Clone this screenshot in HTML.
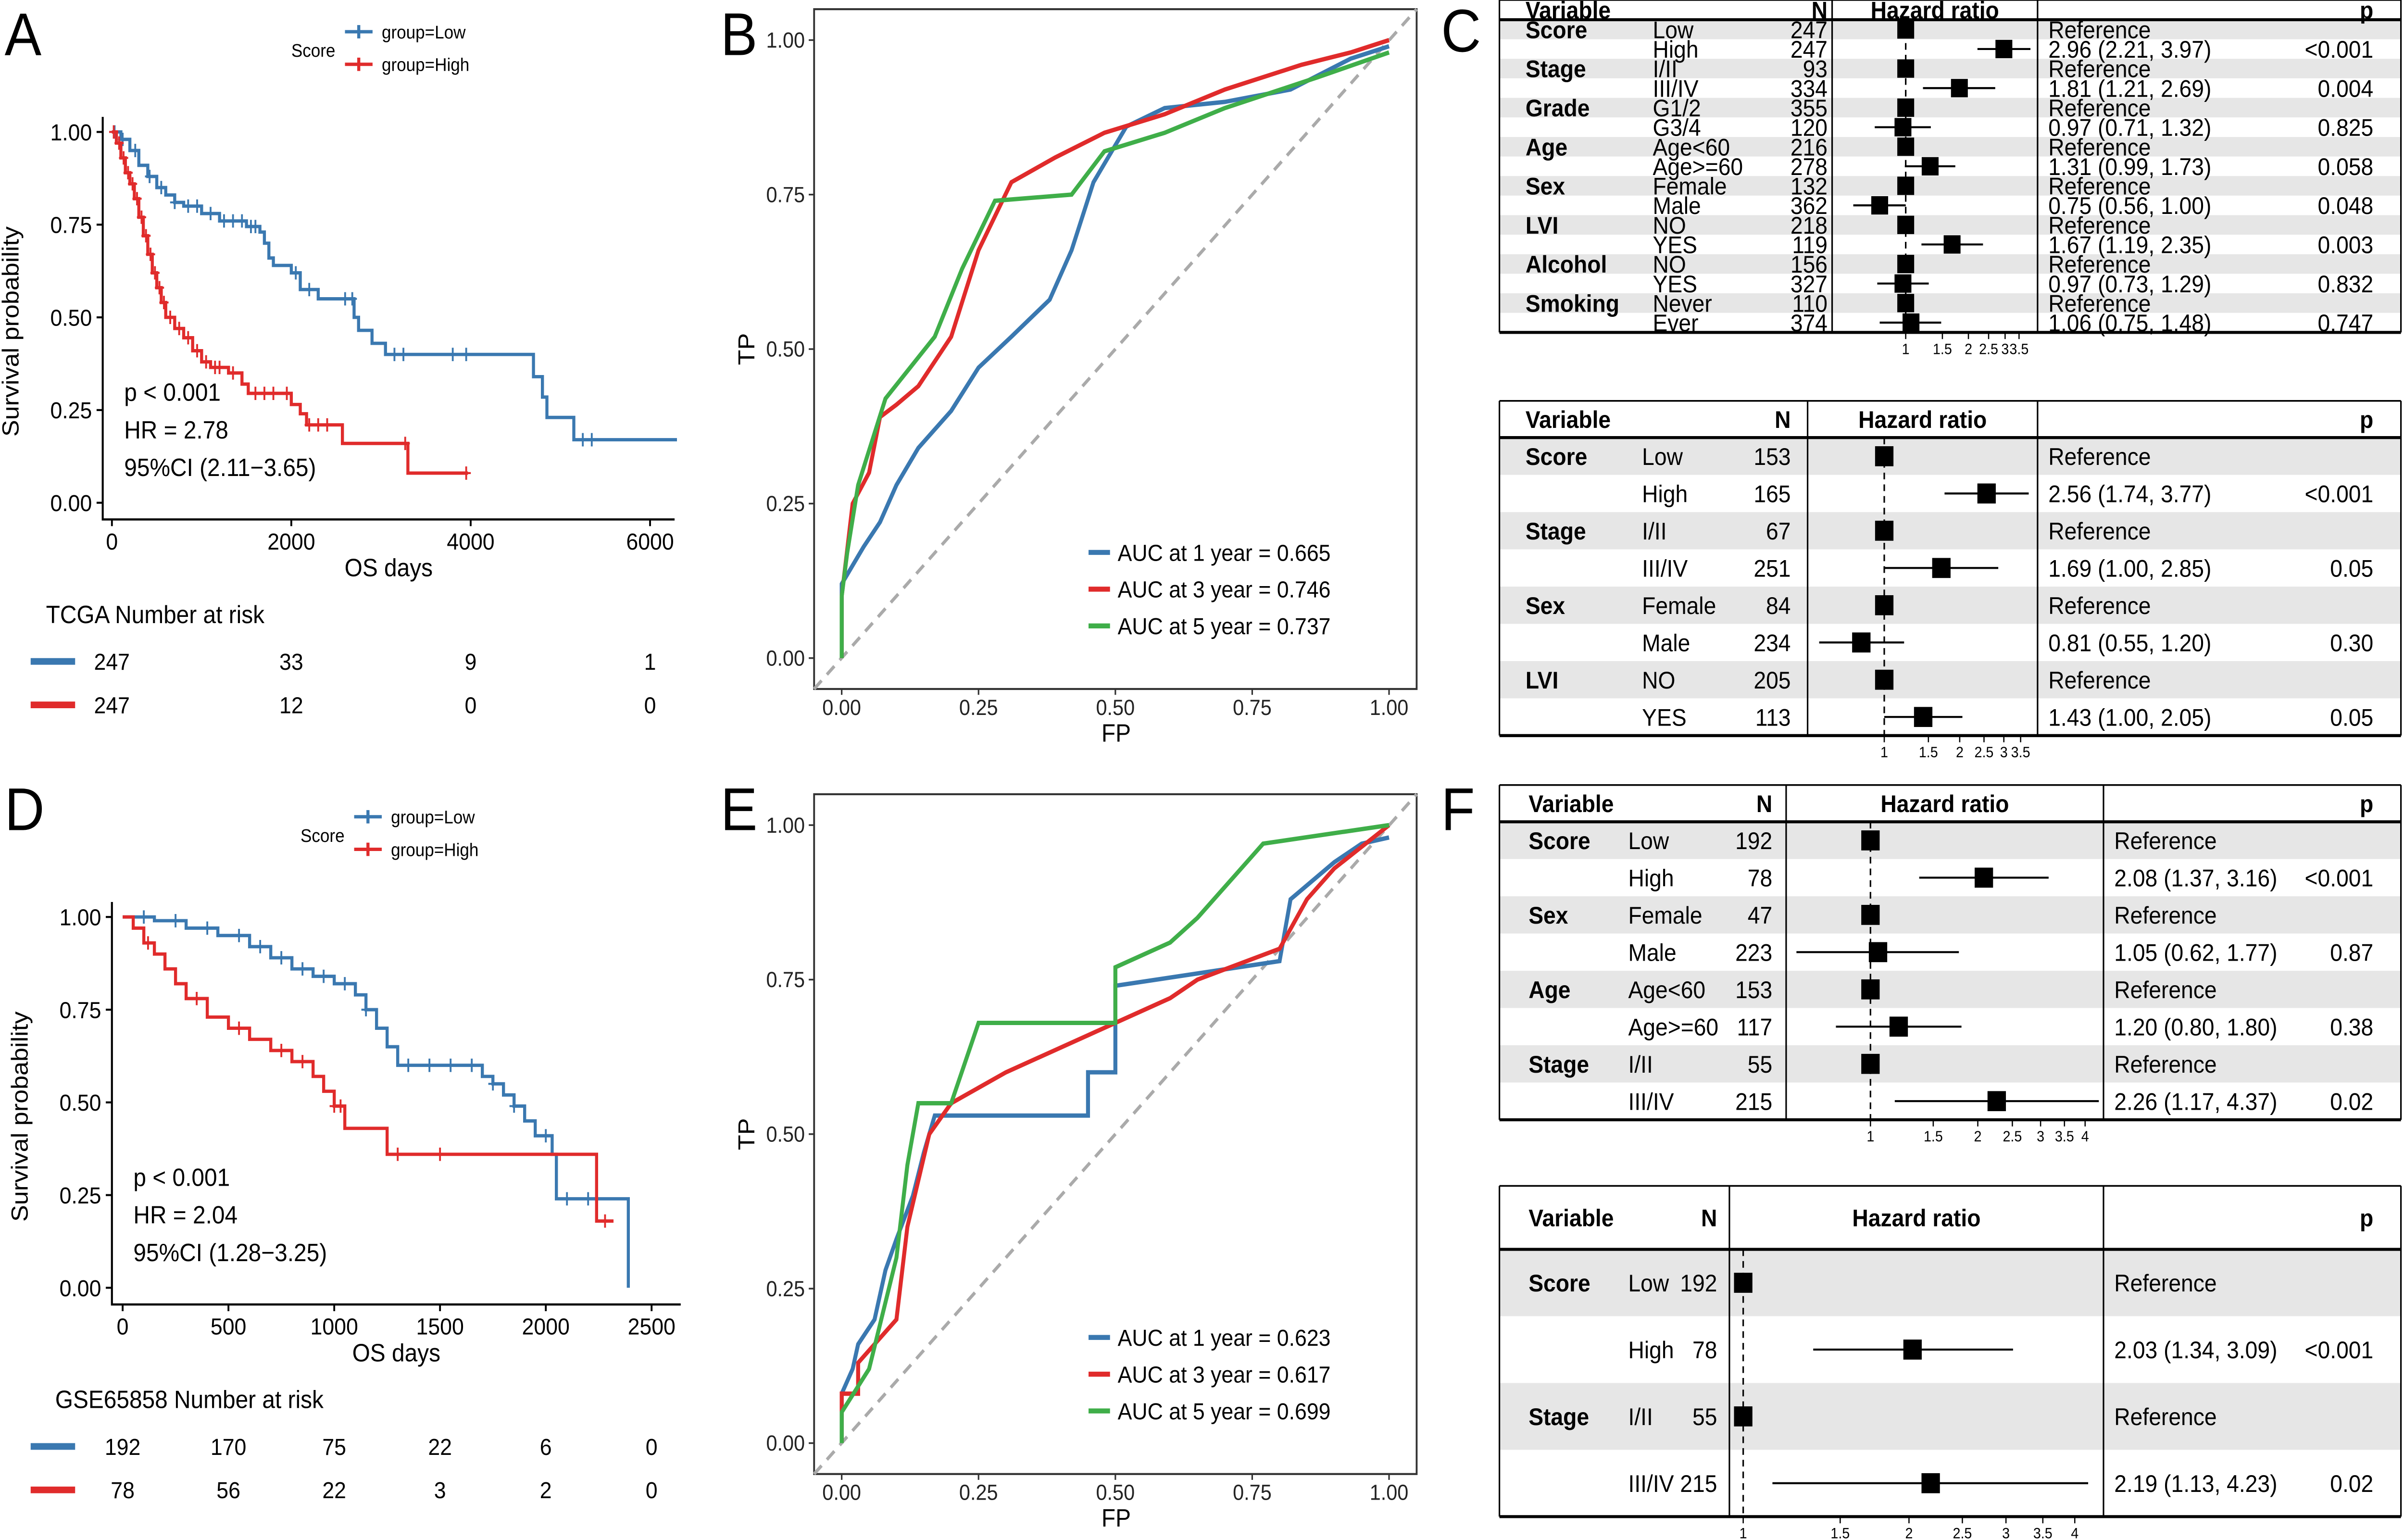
<!DOCTYPE html>
<html><head><meta charset="utf-8"><style>
html,body{margin:0;padding:0;background:#fff;overflow:hidden;width:100vw;height:100vh;}
svg{display:block;width:100vw;height:100vh;}
.n{font-family:"Liberation Sans Narrow","Liberation Sans",sans-serif;}
.s{font-family:"Liberation Sans",sans-serif;}
</style></head><body>
<svg id="fig" xmlns="http://www.w3.org/2000/svg" viewBox="0 0 1568 922" preserveAspectRatio="none">
<rect x="0" y="0" width="1568" height="922" fill="#fff"/>
<g class="s" font-size="36" fill="#000">
<text x="3" y="33">A</text>
<text x="470" y="33">B</text>
<text x="940" y="31">C</text>
<text x="3" y="497">D</text>
<text x="470" y="497">E</text>
<text x="940" y="497">F</text>
</g>
</svg>
<script>
// ---------- DATA ----------
const kmA_low_t=[0,100,200,300,400,500,600,700,800,1000,1200,1500,1650,1700,1750,1800,2000,2100,2300,2700,2750,2900,3050,4700,4800,4850,5150];
const kmA_low_s=[1,0.98,0.95,0.91,0.88,0.85,0.83,0.81,0.80,0.78,0.76,0.745,0.73,0.70,0.66,0.64,0.62,0.575,0.55,0.50,0.465,0.43,0.40,0.34,0.285,0.23,0.17];
const kmA_low_end=6300;
const kmA_low_cens=[30,120,260,420,550,700,850,950,1100,1250,1350,1450,1550,1600,2050,2200,2600,2680,3150,3250,3800,3950,5250,5350];
const kmA_high_t=[0,50,100,150,200,250,300,350,400,450,500,550,600,700,800,900,1000,1100,1300,1450,1520,2000,2100,2170,2570,3300];
const kmA_high_s=[1,0.97,0.93,0.89,0.86,0.82,0.77,0.72,0.67,0.62,0.58,0.54,0.50,0.47,0.445,0.41,0.38,0.365,0.35,0.32,0.295,0.265,0.24,0.21,0.16,0.08];
const kmA_high_end=3970;
const kmA_high_cens=[20,80,130,180,230,280,330,380,430,480,530,580,650,750,850,950,1050,1150,1200,1350,1600,1700,1800,1950,2200,2300,2400,3270,3950];
const kmA_xticks=[0,2000,4000,6000];
const kmA_risk_low=[247,33,9,1];
const kmA_risk_high=[247,12,0,0];

const kmD_low_t=[0,150,300,450,600,700,800,900,1000,1100,1150,1200,1250,1300,1700,1750,1800,1850,1900,1950,2030,2050,2390];
const kmD_low_s=[1,0.99,0.97,0.95,0.92,0.89,0.86,0.84,0.82,0.79,0.75,0.70,0.65,0.60,0.57,0.55,0.52,0.49,0.45,0.41,0.36,0.24,0];
const kmD_low_end=2390;
const kmD_low_cens=[100,250,400,550,650,750,850,950,1050,1150,1350,1450,1550,1650,1750,1850,2000,2100,2200];
const kmD_high_t=[0,50,100,150,200,250,300,400,500,600,700,800,900,950,1000,1050,1250,2240];
const kmD_high_s=[1,0.97,0.93,0.9,0.86,0.82,0.78,0.73,0.70,0.67,0.64,0.61,0.57,0.53,0.49,0.43,0.36,0.18];
const kmD_high_end=2320;
const kmD_high_cens=[120,350,550,750,850,1000,1030,1300,1500,2280];
const kmD_xticks=[0,500,1000,1500,2000,2500];
const kmD_risk_low=[192,170,75,22,6,0];
const kmD_risk_high=[78,56,22,3,2,0];

const rocB_1_fp=[0,0,0.02,0.04,0.07,0.10,0.14,0.17,0.20,0.25,0.31,0.38,0.42,0.46,0.52,0.59,0.70,0.82,0.93,1];
const rocB_1_tp=[0,0.12,0.15,0.18,0.22,0.28,0.34,0.37,0.40,0.47,0.52,0.58,0.66,0.77,0.86,0.89,0.90,0.92,0.97,0.99];
const rocB_3_fp=[0,0,0.02,0.05,0.07,0.10,0.14,0.20,0.25,0.31,0.39,0.48,0.59,0.70,0.84,0.93,1];
const rocB_3_tp=[0,0.10,0.25,0.30,0.39,0.41,0.44,0.52,0.66,0.77,0.81,0.85,0.88,0.92,0.96,0.98,1];
const rocB_5_fp=[0,0,0.01,0.03,0.08,0.17,0.22,0.28,0.42,0.48,0.59,0.70,0.87,1];
const rocB_5_tp=[0,0.10,0.17,0.28,0.42,0.52,0.63,0.74,0.75,0.82,0.85,0.89,0.94,0.98];
const aucB=["0.665","0.746","0.737"];

const rocE_1_fp=[0,0,0.02,0.03,0.06,0.08,0.10,0.13,0.15,0.17,0.45,0.45,0.50,0.50,0.80,0.82,0.90,0.95,1];
const rocE_1_tp=[0,0.08,0.12,0.16,0.20,0.28,0.33,0.40,0.47,0.53,0.53,0.60,0.60,0.74,0.78,0.88,0.94,0.97,0.98];
const rocE_3_fp=[0,0,0.03,0.03,0.10,0.12,0.16,0.20,0.30,0.45,0.50,0.60,0.65,0.80,0.85,0.90,1];
const rocE_3_tp=[0,0.08,0.08,0.13,0.20,0.35,0.50,0.55,0.60,0.66,0.68,0.72,0.75,0.80,0.88,0.93,1];
const rocE_5_fp=[0,0,0.05,0.10,0.12,0.14,0.20,0.25,0.50,0.50,0.60,0.65,0.72,0.77,1];
const rocE_5_tp=[0,0.05,0.12,0.30,0.45,0.55,0.55,0.68,0.68,0.77,0.81,0.85,0.92,0.97,1];
const aucE=["0.623","0.617","0.699"];
const rocTicks=[0,0.25,0.5,0.75,1];
const rocTickLabels=["0.00","0.25","0.50","0.75","1.00"];

const fC1_var=["Score","","Stage","","Grade","","Age","","Sex","","LVI","","Alcohol","","Smoking",""];
const fC1_lvl=["Low","High","I/II","III/IV","G1/2","G3/4","Age<60","Age>=60","Female","Male","NO","YES","NO","YES","Never","Ever"];
const fC1_n=[247,247,93,334,355,120,216,278,132,362,218,119,156,327,110,374];
const fC1_hr=[1,2.96,1,1.81,1,0.97,1,1.31,1,0.75,1,1.67,1,0.97,1,1.06];
const fC1_lo=[1,2.21,1,1.21,1,0.71,1,0.99,1,0.56,1,1.19,1,0.73,1,0.75];
const fC1_hi=[1,3.97,1,2.69,1,1.32,1,1.73,1,1.00,1,2.35,1,1.29,1,1.48];
const fC1_p=["","<0.001","","0.004","","0.825","","0.058","","0.048","","0.003","","0.832","","0.747"];

const fC2_var=["Score","","Stage","","Sex","","LVI",""];
const fC2_lvl=["Low","High","I/II","III/IV","Female","Male","NO","YES"];
const fC2_n=[153,165,67,251,84,234,205,113];
const fC2_hr=[1,2.56,1,1.69,1,0.81,1,1.43];
const fC2_lo=[1,1.74,1,1.00,1,0.55,1,1.00];
const fC2_hi=[1,3.77,1,2.85,1,1.20,1,2.05];
const fC2_p=["","<0.001","","0.05","","0.30","","0.05"];

const fF1_var=["Score","","Sex","","Age","","Stage",""];
const fF1_lvl=["Low","High","Female","Male","Age<60","Age>=60","I/II","III/IV"];
const fF1_n=[192,78,47,223,153,117,55,215];
const fF1_hr=[1,2.08,1,1.05,1,1.20,1,2.26];
const fF1_lo=[1,1.37,1,0.62,1,0.80,1,1.17];
const fF1_hi=[1,3.16,1,1.77,1,1.80,1,4.37];
const fF1_p=["","<0.001","","0.87","","0.38","","0.02"];

const fF2_var=["Score","","Stage",""];
const fF2_lvl=["Low","High","I/II","III/IV"];
const fF2_n=[192,78,55,215];
const fF2_hr=[1,2.03,1,2.19];
const fF2_lo=[1,1.34,1,1.13];
const fF2_hi=[1,3.09,1,4.23];
const fF2_p=["","<0.001","","0.02"];

const forestTicks=[1,1.5,2,2.5,3,3.5];
const forestTicksF=[1,1.5,2,2.5,3,3.5,4];

// ---------- HELPERS ----------
const NS="http://www.w3.org/2000/svg";
const svg=document.getElementById('fig');
function mk(tag,attrs,parent,txt){const e=document.createElementNS(NS,tag);for(const k in attrs)e.setAttribute(k,attrs[k]);if(txt!==undefined)e.textContent=txt;(parent||svg).appendChild(e);return e;}
const BLUE="#3a78b0",RED="#e02b2b",GREEN="#3fae49";

// ---------- KM ----------
function km(cfg){
  const g=mk('g',{},svg);
  
  
  const X=t=>cfg.x0+t*cfg.kx, Y=s=>cfg.y0-s*cfg.ky;
  const ax=mk('path',{d:`M${cfg.axL} ${cfg.axT} V${cfg.axB} H${cfg.axR}`,stroke:'#000','stroke-width':1.3,fill:'none'},g);
  
  
  [0,0.25,0.5,0.75,1].forEach((v,i)=>{
    mk('line',{x1:cfg.axL-4,x2:cfg.axL,y1:Y(v),y2:Y(v),stroke:'#000','stroke-width':1.2},g);
    const t=mk('text',{x:cfg.axL-7,y:Y(v)+5,'text-anchor':'end','font-size':14,class:'n'},g,v.toFixed(2));
    
    
  });
  cfg.xticks.forEach(v=>{
    mk('line',{x1:X(v),x2:X(v),y1:cfg.axB,y2:cfg.axB+4,stroke:'#000','stroke-width':1.2},g);
    const t=mk('text',{x:X(v),y:cfg.axB+18,'text-anchor':'middle','font-size':14,class:'n'},g,String(v));
    
    
  });
  const xt=mk('text',{x:(cfg.axL+cfg.axR)/2,y:cfg.axB+34,'text-anchor':'middle','font-size':15,class:'s'},g,'OS days');
  
  
  const yt=mk('text',{transform:`translate(${cfg.axL-55},${(cfg.axT+cfg.axB)/2+8}) rotate(-90)`,'text-anchor':'middle','font-size':15,class:'s'},g,'Survival probability');
  
  
  cfg.series.forEach(sr=>{
    let d=`M${X(sr.t[0])} ${Y(sr.s[0])}`;
    for(let i=1;i<sr.t.length;i++)d+=` H${X(sr.t[i])} V${Y(sr.s[i])}`;
    d+=` H${X(sr.end)}`;
    const p=mk('path',{d,stroke:sr.col,'stroke-width':2,fill:'none'},g);
    
    
    sr.c.forEach(ct=>{
      let s=sr.s[0];for(let i=0;i<sr.t.length;i++)if(sr.t[i]<=ct)s=sr.s[i];
      const m=mk('path',{d:`M${X(ct)-3} ${Y(s)} H${X(ct)+3} M${X(ct)} ${Y(s)-4} V${Y(s)+4}`,stroke:sr.col,'stroke-width':1.2},g);
      
      
    });
  });
  cfg.stats.forEach((s,i)=>{
    const t=mk('text',{x:cfg.axL+14,y:cfg.statY+i*22.5,'font-size':15,class:'n'},g,s);
    
    
  });
  const lg=mk('g',{},g);
  
  
  mk('text',{x:cfg.legX-35,y:cfg.legY+15,'font-size':11,class:'n'},lg,'Score');
  [['group=Low',BLUE],['group=High',RED]].forEach((l,i)=>{
    const y=cfg.legY+i*19.5;
    mk('path',{d:`M${cfg.legX} ${y} H${cfg.legX+18} M${cfg.legX+9} ${y-4} V${y+4}`,stroke:l[1],'stroke-width':2},lg);
    const t=mk('text',{x:cfg.legX+24,y:y+4,'font-size':11,class:'n'},lg,l[0]);
    
    
  });
  const rt=mk('text',{x:cfg.axL-37,y:cfg.riskY,'font-size':15,class:'n'},g,cfg.riskTitle);
  
  
  [[cfg.riskLow,BLUE],[cfg.riskHigh,RED]].forEach((r,i)=>{
    const y=cfg.riskY+31+i*26;
    mk('line',{x1:20,x2:49,y1:y-8,y2:y-8,stroke:r[1],'stroke-width':4},g);
    r[0].forEach((v,j)=>{
      const t=mk('text',{x:X(cfg.xticks[j]),y:y-3,'text-anchor':'middle','font-size':14,class:'n'},g,String(v));
      
      
    });
  });
}
km({name:'km-plot-tcga',x0:73,kx:(190-73)/2000,y0:301,ky:222,axL:67,axR:440,axT:70,axB:311,xticks:kmA_xticks,
 series:[{t:kmA_low_t,s:kmA_low_s,end:kmA_low_end,c:kmA_low_cens,col:BLUE,nm:'low-group'},{t:kmA_high_t,s:kmA_high_s,end:kmA_high_end,c:kmA_high_cens,col:RED,nm:'high-group'}],
 stats:['p < 0.001','HR = 2.78','95%CI (2.11\u22123.65)'],statY:240,legX:225,legY:19,riskY:373,riskTitle:'TCGA Number at risk',riskLow:kmA_risk_low,riskHigh:kmA_risk_high});
km({name:'km-plot-gse65858',x0:80,kx:(149-80)/500,y0:771,ky:222,axL:73,axR:444,axT:540,axB:781,xticks:kmD_xticks,
 series:[{t:kmD_low_t,s:kmD_low_s,end:kmD_low_end,c:kmD_low_cens,col:BLUE,nm:'low-group'},{t:kmD_high_t,s:kmD_high_s,end:kmD_high_end,c:kmD_high_cens,col:RED,nm:'high-group'}],
 stats:['p < 0.001','HR = 2.04','95%CI (1.28\u22123.25)'],statY:710,legX:231,legY:489,riskY:843,riskTitle:'GSE65858 Number at risk',riskLow:kmD_risk_low,riskHigh:kmD_risk_high});

// ---------- ROC ----------
function roc(cfg){
  const g=mk('g',{},svg);
  
  
  const X=v=>549+v*357, Y=v=>cfg.y0-v*370;
  const b=mk('rect',{x:531,y:cfg.y0-388.5,width:393,height:407,fill:'none',stroke:'#333','stroke-width':1.2},g);
  
  
  mk('line',{x1:531,y1:cfg.y0+18.5,x2:924,y2:cfg.y0-388.5,stroke:'#aaa','stroke-width':2,'stroke-dasharray':'7,5'},g);
  rocTicks.forEach((v,i)=>{
    mk('line',{x1:X(v),x2:X(v),y1:cfg.y0+18.5,y2:cfg.y0+22,stroke:'#333'},g);
    const t=mk('text',{x:X(v),y:cfg.y0+34,'text-anchor':'middle','font-size':13,class:'s',fill:'#222'},g,rocTickLabels[i]);
    
    
    mk('line',{x1:527.5,x2:531,y1:Y(v),y2:Y(v),stroke:'#333'},g);
    const t2=mk('text',{x:525,y:Y(v)+4.5,'text-anchor':'end','font-size':13,class:'s',fill:'#222'},g,rocTickLabels[i]);
    
    
  });
  const xt=mk('text',{x:728,y:cfg.y0+50,'text-anchor':'middle','font-size':15,class:'s'},g,'FP');
  
  
  const yt=mk('text',{transform:`translate(${492},${Y(0.5)}) rotate(-90)`,'text-anchor':'middle','font-size':15,class:'s'},g,'TP');
  
  
  cfg.series.forEach((s,k)=>{
    let d='';s.fp.forEach((f,i)=>{d+=(i?' L':'M')+X(f)+' '+Y(s.tp[i]);});
    const p=mk('path',{d,stroke:s.col,'stroke-width':2.6,fill:'none'},g);
    
    
    const ly=Y(0.171)+k*22;
    mk('line',{x1:710,x2:724,y1:ly,y2:ly,stroke:s.col,'stroke-width':3},g);
    const t=mk('text',{x:729,y:ly+5,'font-size':14,class:'s'},g,`AUC at ${s.yr} year = ${cfg.auc[k]}`);
    
    
  });
}
roc({name:'roc-plot-tcga',y0:394,auc:aucB,series:[{fp:rocB_1_fp,tp:rocB_1_tp,col:BLUE,yr:1},{fp:rocB_3_fp,tp:rocB_3_tp,col:RED,yr:3},{fp:rocB_5_fp,tp:rocB_5_tp,col:GREEN,yr:5}]});
roc({name:'roc-plot-gse65858',y0:864,auc:aucE,series:[{fp:rocE_1_fp,tp:rocE_1_tp,col:BLUE,yr:1},{fp:rocE_3_fp,tp:rocE_3_tp,col:RED,yr:3},{fp:rocE_5_fp,tp:rocE_5_tp,col:GREEN,yr:5}]});

// ---------- FOREST ----------
function forest(c){
  const g=mk('g',{class:'n'},svg);
  
  
  const n=c.lvl.length, yb=c.y0+c.hdr+n*c.rh;
  const X=v=>c.x1+Math.log(v)*c.k;
  for(let i=0;i<n;i+=2)mk('rect',{x:978,y:c.y0+c.hdr+i*c.rh,width:588,height:c.rh,fill:'#e6e6e6'},g);
  mk('line',{x1:978,x2:1566,y1:c.y0,y2:c.y0,stroke:'#000','stroke-width':1},g);
  mk('line',{x1:978,x2:1566,y1:c.y0+c.hdr,y2:c.y0+c.hdr,stroke:'#000','stroke-width':1.8},g);
  mk('line',{x1:978,x2:1566,y1:yb,y2:yb,stroke:'#000','stroke-width':1.8},g);
  [978,c.d1,c.d2,1566].forEach(x=>mk('line',{x1:x,x2:x,y1:c.y0,y2:yb,stroke:'#000','stroke-width':1},g));
  const fs=c.fs, hy=c.y0+c.hdr/2+fs*0.36;
  [['Variable',c.vx,'start'],['N',c.nx,'end'],['Hazard ratio',(c.d1+c.d2)/2,'middle'],['p',1548,'end']].forEach(h=>{
    const t=mk('text',{x:h[1],y:hy,'text-anchor':h[2],'font-size':fs,'font-weight':'bold'},g,h[0]);
    
    
  });
  mk('line',{x1:X(1),x2:X(1),y1:c.y0+c.hdr,y2:yb,stroke:'#000','stroke-width':1,'stroke-dasharray':'4,3'},g);
  for(let i=0;i<n;i++){
    const cy=c.y0+c.hdr+(i+0.5)*c.rh, ty=cy+fs*0.36;
    if(c.vars[i]){const t=mk('text',{x:c.vx,y:ty,'font-size':fs,'font-weight':'bold'},g,c.vars[i]);
      
      }
    const tl=mk('text',{x:c.lx,y:ty,'font-size':fs},g,c.lvl[i]);
    
    
    const tn=mk('text',{x:c.nx,y:ty,'text-anchor':'end','font-size':fs},g,String(c.n[i]));
    
    
    const ref=c.hr[i]===1&&c.lo[i]===1;
    const ci=ref?'Reference':`${c.hr[i].toFixed(2)} (${c.lo[i].toFixed(2)}, ${c.hi[i].toFixed(2)})`;
    const tc=mk('text',{x:c.d2+7,y:ty,'font-size':fs},g,ci);
    
    
    if(c.p[i]){const tp=mk('text',{x:1548,y:ty,'text-anchor':'end','font-size':fs},g,c.p[i]);
      
      }
    if(!ref){const w=mk('line',{x1:X(c.lo[i]),x2:X(c.hi[i]),y1:cy,y2:cy,stroke:'#000','stroke-width':1.2},g);
      
      }
    const q=mk('rect',{x:X(c.hr[i])-c.sq/2,y:cy-c.sq/2,width:c.sq,height:c.sq,fill:'#000'},g);
    
    
  }
  c.ticks.forEach(v=>{
    mk('line',{x1:X(v),x2:X(v),y1:yb,y2:yb+4,stroke:'#000','stroke-width':0.8},g);
    const t=mk('text',{x:X(v),y:yb+13,'text-anchor':'middle','font-size':9},g,String(v));
    
    
  });
  mk('line',{x1:X(c.ticks[0]),x2:X(c.ticks[c.ticks.length-1]),y1:yb,y2:yb,stroke:'#000','stroke-width':0.8},g);
}
forest({name:'forest-tcga-univariate',y0:0,hdr:11.8,rh:11.7,d1:1195,d2:1329,vx:995,lx:1078,nx:1192,x1:1243,k:59,fs:14.5,sq:11,ticks:forestTicks,
 vars:fC1_var,lvl:fC1_lvl,n:fC1_n,hr:fC1_hr,lo:fC1_lo,hi:fC1_hi,p:fC1_p});
forest({name:'forest-tcga-multivariate',y0:240,hdr:22,rh:22.3,d1:1179,d2:1329,vx:995,lx:1071,nx:1168,x1:1229,k:71,fs:14.5,sq:12,ticks:forestTicks,
 vars:fC2_var,lvl:fC2_lvl,n:fC2_n,hr:fC2_hr,lo:fC2_lo,hi:fC2_hi,p:fC2_p});
forest({name:'forest-gse-univariate',y0:470,hdr:22,rh:22.3,d1:1165,d2:1372,vx:997,lx:1062,nx:1156,x1:1220,k:101,fs:14.5,sq:12,ticks:forestTicksF,
 vars:fF1_var,lvl:fF1_lvl,n:fF1_n,hr:fF1_hr,lo:fF1_lo,hi:fF1_hi,p:fF1_p});
forest({name:'forest-gse-multivariate',y0:710,hdr:38,rh:40,d1:1128,d2:1372,vx:997,lx:1062,nx:1120,x1:1137,k:156,fs:14.5,sq:12,ticks:forestTicksF,
 vars:fF2_var,lvl:fF2_lvl,n:fF2_n,hr:fF2_hr,lo:fF2_lo,hi:fF2_hi,p:fF2_p});
</script>
</body></html>
